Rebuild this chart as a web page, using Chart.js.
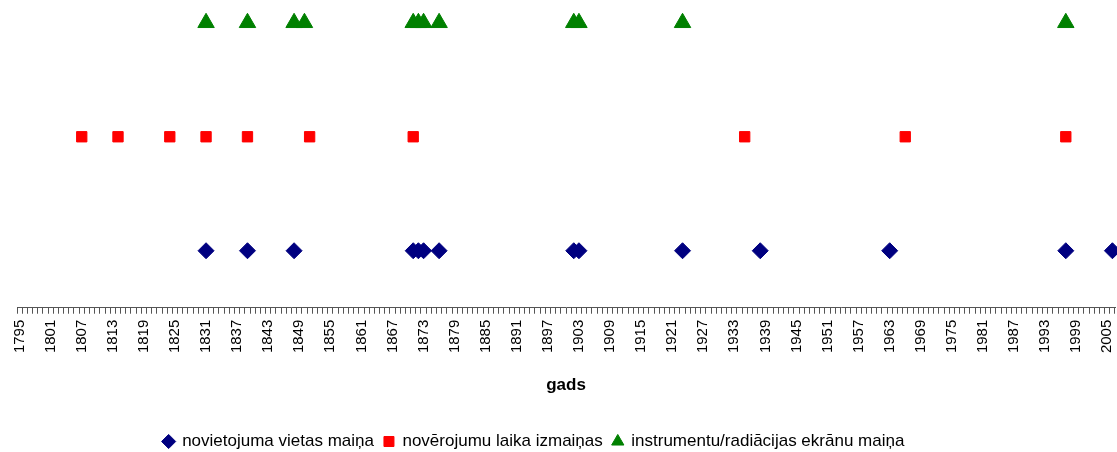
<!DOCTYPE html>
<html lang="lv">
<head>
<meta charset="UTF-8">
<title>Novērojumu vietas izmaiņas</title>
<script src="https://cdn.jsdelivr.net/npm/chart.js@4"></script>
<style>
  html, body { margin:0; padding:0; background:#fff; }
  #wrap { width:1117px; height:452px; }
</style>
</head>
<body>
<div id="wrap"><canvas id="c" width="1117" height="452"></canvas></div>
<script>
// x axis: every year 1795..2006, label each 6th
const firstYear = 1795, lastYear = 2006;
const years = [];
for (let y = firstYear; y <= lastYear; y++) years.push(y);

// event years
const siteYears  = [1831, 1839, 1848, 1871, 1872, 1873, 1876, 1902, 1903, 1923, 1938, 1963, 1997, 2006];
const timeYears  = [1807, 1814, 1824, 1831, 1839, 1851, 1871, 1935, 1966, 1997];
const instrYears = [1831, 1839, 1848, 1850, 1871, 1872, 1873, 1876, 1902, 1903, 1923, 1997];

// row of each series
const siteLevel = 1, timeLevel = 2, instrLevel = 3;

const seriesNames = [
  "novietojuma vietas maiņa",
  "novērojumu laika izmaiņas",
  "instrumentu/radiācijas ekrānu maiņa"
];

const toPts = (arr, lvl) => arr.map(y => ({x: y, y: lvl}));

Chart.defaults.font.family = "'Liberation Sans', Arial, sans-serif";
Chart.defaults.color = "#000";

// legend in the picture sits a bit left of centre and lower down
const legendShift = {
  id: "legendShift",
  afterLayout(chart) {
    const l = chart.legend;
    l.left -= 32; l.right -= 32;
    l.top += 8; l.bottom += 8;
  }
};

new Chart(document.getElementById("c"), {
  type: "line",
  data: {
    labels: years,
    datasets: [
      { label: seriesNames[0], data: toPts(siteYears, siteLevel), showLine:false,
        pointStyle:"rectRot", pointRadius:8, backgroundColor:"#000080", borderColor:"#000080", borderWidth:1 },
      { label: seriesNames[1], data: toPts(timeYears, timeLevel), showLine:false,
        pointStyle:"rect", pointRadius:7.3, backgroundColor:"#ff0000", borderColor:"#ff0000", borderWidth:1 },
      { label: seriesNames[2], data: toPts(instrYears, instrLevel), showLine:false,
        pointStyle:"triangle", pointRadius:9.5, backgroundColor:"#008000", borderColor:"#008000", borderWidth:1 }
    ]
  },
  options: {
    responsive:false, animation:false,
    layout: { autoPadding:false, padding: { left:17, right:2, top:0, bottom:0 } },
    plugins: {
      legend: {
        position:"bottom",
        labels: { usePointStyle:true, boxHeight:10, boxWidth:10, padding:10, color:"#000",
                  font:{ size:17 } }
      },
      tooltip: { enabled:false }
    },
    scales: {
      x: {
        type:"category", offset:true,
        afterFit(s) { s.paddingLeft = 0; s.paddingRight = 0; },
        grid: { offset:true, drawOnChartArea:false, drawTicks:true, tickLength:6, color:"#555" },
        border: { color:"#555", width:1 },
        ticks: {
          autoSkip:false, minRotation:90, maxRotation:90, padding:6,
          font:{ size:15 }, color:"#000",
          callback: function(v, i) { const y = years[i]; return (y - firstYear) % 6 === 0 ? String(y) : ""; }
        },
        title: { display:true, text:"gads", font:{ size:17, weight:"bold" }, color:"#000", padding:{ top:16, bottom:19.5 } }
      },
      y: { display:false, min:0.5, max:3.2 }
    }
  },
  plugins: [legendShift]
});
</script>
</body>
</html>
